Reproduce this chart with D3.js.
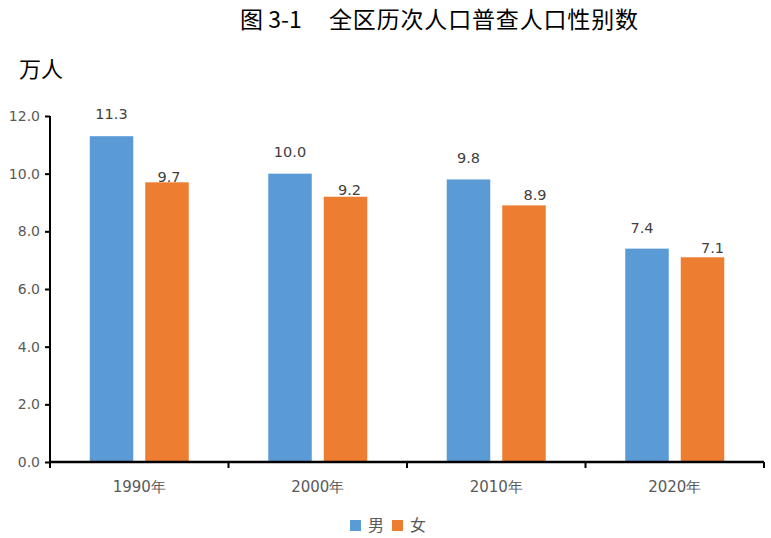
<!DOCTYPE html>
<meta charset="utf-8">
<script src="https://d3js.org/d3.v7.min.js"></script>
<html>
<head>
<style>
body { margin: 0; background: #fff; }
text { font-family: "DejaVu Sans", sans-serif; }
.cjk { font-family: "Noto Sans CJK SC", sans-serif; }
</style>
</head>
<body>
<svg id="chart" width="771" height="538"></svg>
<script>

// data
var years = ["1990年", "2000年", "2010年", "2020年"];
var series = ["男", "女"];
var male = [11.3, 10.0, 9.8, 7.4];
var female = [9.7, 9.2, 8.9, 7.1];
var yTicks = [0, 2, 4, 6, 8, 10, 12];
var colors = ["#5b9bd5", "#ed7d31"];

var svg = d3.select("#chart");

var margin = {left: 50, right: 7, top: 116, bottom: 76},
    width = 771 - margin.left - margin.right,
    height = 538 - margin.top - margin.bottom;

var g = svg.append("g").attr("transform", "translate(" + margin.left + "," + margin.top + ")");

var x0 = d3.scaleBand().domain(years).range([0, width]);
var x1 = d3.scaleBand().domain(series).range([0, x0.bandwidth()])
    .paddingInner(0.216).paddingOuter(0.716);
var y = d3.scaleLinear().domain([0, 12]).range([height, 0]);

var rows = years.map(function(d, i) {
  return {year: d, vals: [{s: "男", v: male[i]}, {s: "女", v: female[i]}]};
});

// bars
var grp = g.selectAll(".grp").data(rows).enter().append("g")
    .attr("transform", function(d) { return "translate(" + x0(d.year) + ",0)"; });

grp.selectAll("rect").data(function(d) { return d.vals; }).enter().append("rect")
    .attr("x", function(d) { return x1(d.s); })
    .attr("y", function(d) { return y(d.v); })
    .attr("width", x1.bandwidth())
    .attr("height", function(d) { return height - y(d.v); })
    .attr("fill", function(d, i) { return colors[i]; });

// value labels (women's labels sit almost on the bar, a bit to the right)
var nudgeX = [[0, 2], [0, 4], [0, 11], [-5, 10]];
var nudgeY = [[-17, 0], [-17, -2], [-16, -5], [-16, -4]];
grp.each(function(d, gi) {
  d3.select(this).selectAll(".lbl").data(d.vals).enter().append("text")
    .attr("x", function(v, i) { return x1(v.s) + x1.bandwidth() / 2 + nudgeX[gi][i]; })
    .attr("y", function(v, i) { return y(v.v) + nudgeY[gi][i]; })
    .attr("text-anchor", "middle")
    .attr("font-size", 14.5)
    .attr("fill", "#404040")
    .text(function(v) { return v.v.toFixed(1); });
});

// y axis
var yAxis = g.append("g").call(d3.axisLeft(y).tickValues(yTicks).tickSize(5).tickFormat(d3.format(".1f")));
yAxis.select(".domain").attr("stroke", "#000").attr("stroke-width", 2).attr("d", "M0," + height + "V0");
yAxis.selectAll(".tick line").attr("stroke", "#000").attr("stroke-width", 2);
yAxis.selectAll(".tick text").attr("font-size", 14).attr("fill", "#595959")
    .attr("font-family", "DejaVu Sans").attr("x", -10);

// x axis with ticks at band edges
var xAxis = g.append("g").attr("transform", "translate(0," + height + ")");
xAxis.append("line").attr("x1", 0).attr("x2", width).attr("stroke", "#000").attr("stroke-width", 2.5);
xAxis.selectAll(".xt").data(years.concat(["end"])).enter().append("line")
    .attr("x1", function(d) { return d === "end" ? width : x0(d); })
    .attr("x2", function(d) { return d === "end" ? width : x0(d); })
    .attr("y1", 0).attr("y2", 6)
    .attr("stroke", "#000").attr("stroke-width", 2);
xAxis.selectAll(".xl").data(years).enter().append("text")
    .attr("x", function(d) { return x0(d) + x0.bandwidth() / 2; })
    .attr("y", 30)
    .attr("text-anchor", "middle")
    .attr("font-size", 15)
    .attr("fill", "#595959")
    .text(function(d) { return d; });

// title and unit
svg.append("text").attr("class", "cjk").attr("x", 240).attr("y", 28)
    .attr("font-size", 23).attr("fill", "#000")
    .text("图 3-1");
svg.append("text").attr("class", "cjk").attr("x", 329).attr("y", 28)
    .attr("font-size", 23).attr("fill", "#000")
    .attr("textLength", 309)
    .text("全区历次人口普查人口性别数");
svg.append("text").attr("class", "cjk").attr("x", 19).attr("y", 77)
    .attr("font-size", 22).attr("fill", "#000")
    .text("万人");

// legend
var leg = svg.append("g").attr("transform", "translate(350,520)");
var li = leg.selectAll("g").data(series).enter().append("g")
    .attr("transform", function(d, i) { return "translate(" + (i * 42) + ",0)"; });
li.append("rect").attr("width", 11).attr("height", 11)
    .attr("fill", function(d, i) { return colors[i]; });
li.append("text").attr("class", "cjk").attr("x", 18).attr("y", 11)
    .attr("font-size", 16).attr("fill", "#595959")
    .text(function(d) { return d; });

</script>
</body>
</html>
